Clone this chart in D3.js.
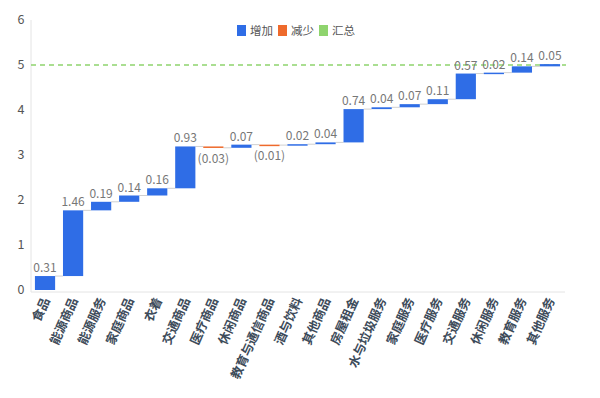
<!DOCTYPE html>
<html>
<head>
<meta charset="utf-8">
<script src="https://cdn.jsdelivr.net/npm/d3@7"></script>
<style>
body { margin: 0; background: #fff; }
text { font-family: "Noto Sans CJK SC", "Noto Sans", sans-serif; }
</style>
</head>
<body>
<svg id="chart" width="600" height="398"></svg>
<script>
const categories = ["食品", "能源商品", "能源服务", "家庭商品", "衣着", "交通商品", "医疗商品", "休闲商品",
  "教育与通信商品", "酒与饮料", "其他商品", "房屋租金", "水与垃圾服务", "家庭服务", "医疗服务",
  "交通服务", "休闲服务", "教育服务", "其他服务"];
const values = [0.31, 1.46, 0.19, 0.14, 0.16, 0.93, -0.03, 0.07, -0.01, 0.02, 0.04, 0.74, 0.04, 0.07, 0.11, 0.57, 0.02, 0.14, 0.05];
const totalLine = 5;
const yTicks = [0, 1, 2, 3, 4, 5, 6];
const legendItems = ["增加", "减少", "汇总"];

const colors = { up: "#2f6de6", down: "#ee6a2c", total: "#8fd46e" };

const svg = d3.select("#chart");

// running totals
let run = 0;
const steps = values.map((v, i) => {
  const start = run;
  run += v;
  return { cat: categories[i], v: v, start: start, end: run };
});

const x = d3.scaleBand()
  .domain(categories)
  .range([31, 564])
  .paddingInner(0.28)
  .paddingOuter(0.14);

const y = d3.scaleLinear()
  .domain([0, 6])
  .range([290, 20]);

// y axis labels
svg.append("g")
  .selectAll("text")
  .data(yTicks)
  .enter()
  .append("text")
  .attr("x", 21)
  .attr("y", d => y(d) + 4)
  .attr("text-anchor", "middle")
  .style("font-size", "12.5px")
  .style("fill", "#555")
  .text(d => d);

// axis lines
svg.append("line")
  .attr("x1", 31).attr("x2", 31)
  .attr("y1", y(6)).attr("y2", 292)
  .attr("stroke", "#e4e4e4");
svg.append("line")
  .attr("x1", 31).attr("x2", 565)
  .attr("y1", 292).attr("y2", 292)
  .attr("stroke", "#e4e4e4");

// total dashed line
svg.append("line")
  .attr("x1", 31).attr("x2", 566)
  .attr("y1", y(totalLine)).attr("y2", y(totalLine))
  .attr("stroke", colors.total)
  .attr("stroke-width", 1.5)
  .attr("stroke-dasharray", "5,4");

// connectors
svg.append("g")
  .selectAll("line")
  .data(steps.slice(0, -1))
  .enter()
  .append("line")
  .attr("x1", (d, i) => x(d.cat) + x.bandwidth())
  .attr("x2", (d, i) => x(categories[i + 1]))
  .attr("y1", d => y(d.end))
  .attr("y2", d => y(d.end))
  .attr("stroke", "#d0d0d0")
  .attr("stroke-width", 1);

// bars
svg.append("g")
  .selectAll("rect")
  .data(steps)
  .enter()
  .append("rect")
  .attr("x", d => x(d.cat))
  .attr("width", x.bandwidth())
  .attr("y", d => y(Math.max(d.start, d.end)))
  .attr("height", d => Math.max(1.5, Math.abs(y(d.start) - y(d.end))))
  .attr("fill", d => d.v >= 0 ? colors.up : colors.down);

// value labels
svg.append("g")
  .selectAll("text")
  .data(steps)
  .enter()
  .append("text")
  .attr("x", d => x(d.cat) + x.bandwidth() / 2)
  .attr("y", d => d.v >= 0 ? y(d.end) - 4 : y(d.end) + 15)
  .attr("text-anchor", "middle")
  .style("font-size", "12px")
  .style("fill", "#777")
  .text(d => d.v >= 0 ? d.v.toFixed(2) : "(" + Math.abs(d.v).toFixed(2) + ")");

// category labels
svg.append("g")
  .selectAll("text")
  .data(categories)
  .enter()
  .append("text")
  .attr("transform", d => `translate(${x(d) + x.bandwidth() / 2 + 5},${300}) rotate(-66)`)
  .attr("text-anchor", "end")
  .style("font-size", "12.5px")
  .style("font-weight", "bold")
  .style("fill", "#3d4b5a")
  .text(d => d);

// legend
const legendColors = [colors.up, colors.down, colors.total];
const legend = svg.append("g").attr("transform", "translate(237,25)");
legendItems.forEach((t, i) => {
  const g = legend.append("g").attr("transform", `translate(${i * 41},0)`);
  g.append("rect").attr("width", 9).attr("height", 11).attr("fill", legendColors[i]);
  g.append("text").attr("x", 13).attr("y", 10)
    .style("font-size", "11.5px").style("fill", "#555").text(t);
});
</script>
</body>
</html>
